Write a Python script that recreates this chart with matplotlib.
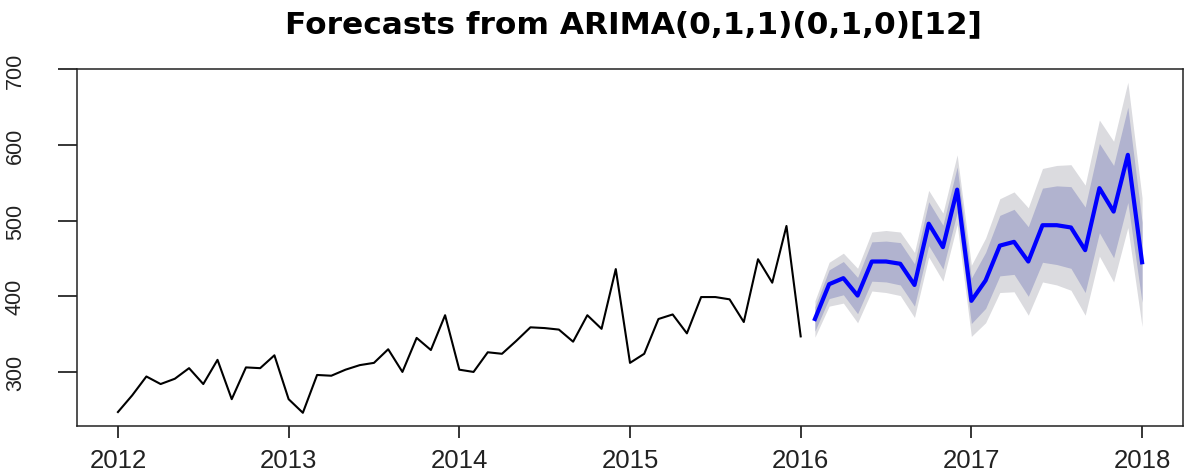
import numpy as np
import matplotlib
matplotlib.use("Agg")
import matplotlib.pyplot as plt
from matplotlib.ticker import FixedLocator

# Monthly observations, Jan 2012 .. Jan 2016
obs_start = 2012.0
observed = [247, 269, 294, 284, 291, 305, 284, 316, 264, 306, 305, 322,
            264, 246, 296, 295, 303, 309, 312, 330, 300, 345, 329, 375,
            303, 300, 326, 324, 341, 359, 358, 356, 340, 375, 357, 436,
            312, 324, 370, 376, 351, 399, 399, 396, 366, 449, 418, 493,
            347]

# Point forecasts, Feb 2016 .. Jan 2018
fc_start = 2016.0 + 1 / 12
forecast = [370, 416, 424, 401, 446, 446, 443, 415, 496, 465, 541, 394,
            421, 467, 472, 446, 494, 494, 491, 461, 543, 512, 587, 445]

# Prediction intervals
lo80 = [354, 397, 402, 377, 420, 419, 415, 387, 467, 436, 511, 364,
        384, 427, 429, 400, 445, 442, 437, 405, 484, 451, 524, 392]
hi80 = [386, 435, 446, 425, 472, 473, 471, 443, 525, 494, 571, 424,
        458, 507, 515, 492, 543, 546, 545, 518, 602, 573, 650, 498]
lo95 = [346, 387, 391, 365, 407, 405, 401, 372, 452, 420, 495, 347,
        365, 405, 406, 375, 419, 415, 408, 375, 453, 419, 491, 360]
hi95 = [394, 445, 457, 437, 485, 487, 485, 458, 540, 510, 587, 441,
        477, 529, 538, 517, 569, 573, 574, 547, 633, 605, 683, 530]

title = "Forecasts from ARIMA(0,1,1)(0,1,0)[12]"
x_ticks = [2012, 2013, 2014, 2015, 2016, 2017, 2018]
y_ticks = [300, 400, 500, 600, 700]

t_obs = obs_start + np.arange(len(observed)) / 12
t_fc = fc_start + np.arange(len(forecast)) / 12

fig = plt.figure(figsize=(11.86, 4.77), dpi=100)
ax = fig.add_axes([0.0649, 0.1048, 0.9326, 0.7484])

ax.fill_between(t_fc, lo95, hi95, color="#DBDBDF", linewidth=0)
ax.fill_between(t_fc, lo80, hi80, color="#B1B3CF", linewidth=0)
ax.plot(t_obs, observed, color="black", linewidth=1.5)
ax.plot(t_fc, forecast, color="#0000FF", linewidth=3.0)

# R-style 4% padding around the data range
all_y = np.concatenate([observed, lo95, hi95])
ymin, ymax = all_y.min(), all_y.max()
pad_y = 0.04 * (ymax - ymin)
ax.set_ylim(ymin - pad_y, ymax + pad_y)
pad_x = 0.04 * (t_fc[-1] - t_obs[0])
ax.set_xlim(t_obs[0] - pad_x, t_fc[-1] + pad_x)

ax.xaxis.set_major_locator(FixedLocator(x_ticks))
ax.yaxis.set_major_locator(FixedLocator(y_ticks))
ax.set_xticklabels([str(v) for v in x_ticks],
                   fontfamily=["Liberation Sans", "DejaVu Sans"], fontsize=18.5)
ax.set_yticklabels([str(v) for v in y_ticks],
                   fontfamily=["Liberation Sans", "DejaVu Sans"],
                   fontsize=15.5, rotation=90, va="center")
ax.tick_params(axis="x", length=8.6, width=1.1, pad=7.5, colors="black",
               labelcolor="#222222")
ax.tick_params(axis="y", length=13.7, width=1.1, pad=23, colors="black",
               labelcolor="#222222")

for s in ax.spines.values():
    s.set_linewidth(1.1)
    s.set_color("#222222")

fig.text(0.5337, 1 - 33 / 477, title, ha="center", va="baseline",
         fontsize=22.5, fontweight="bold", family=["DejaVu Sans"])

fig.savefig("out.png", dpi=100)
